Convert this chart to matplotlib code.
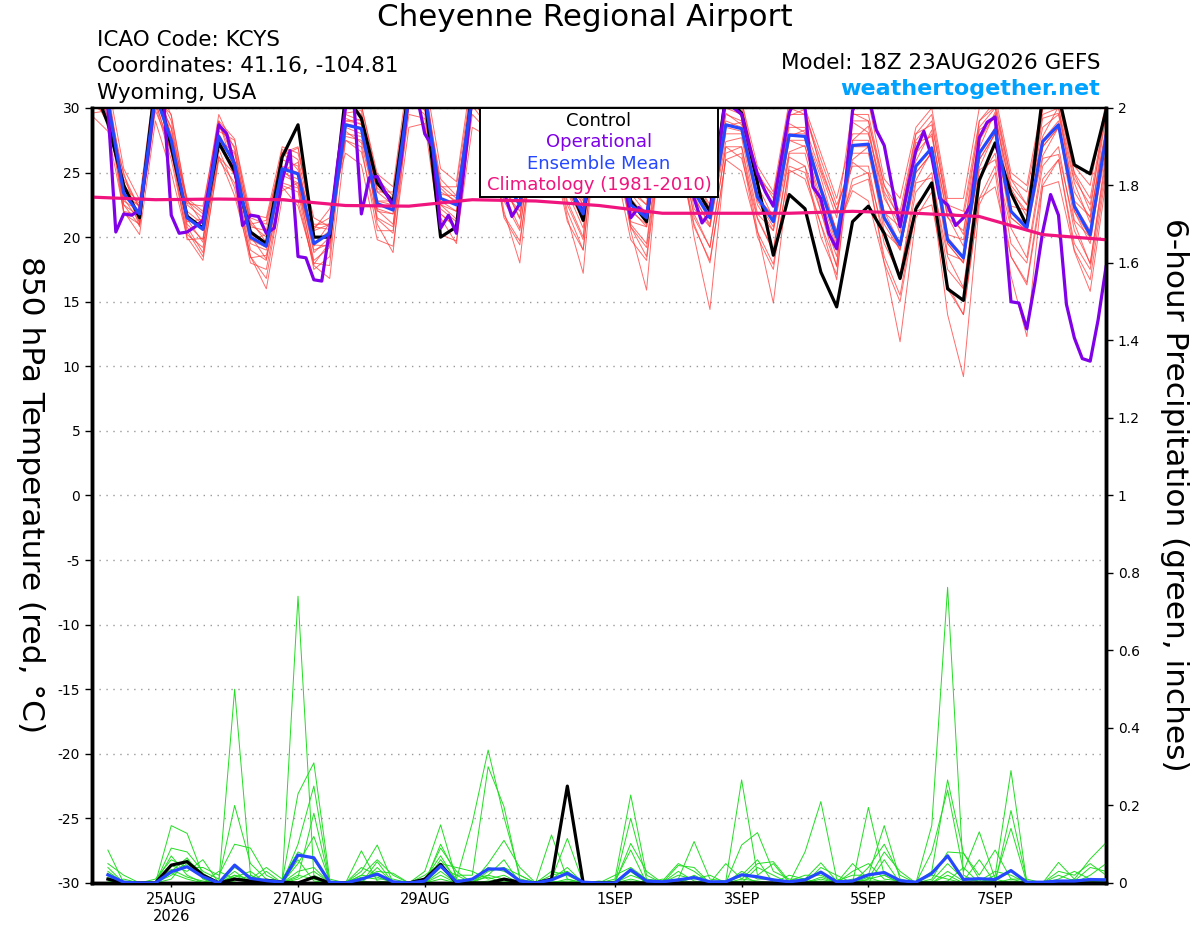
import numpy as np
import pandas as pd
import matplotlib
matplotlib.use("Agg")
import matplotlib.pyplot as plt
from matplotlib.patches import Rectangle

plt.rcParams['font.family'] = ['DejaVu Sans']

# GEFS run 18Z 23AUG2026, 6-hourly (operational 3-hourly)
times = pd.date_range("2026-08-23 18:00", periods=65, freq="6h").to_numpy()
times_op = pd.date_range("2026-08-23 18:00", periods=129, freq="3h").to_numpy()
times_clim = pd.date_range("2026-08-23 18:00", periods=17, freq="24h").to_numpy()
times_p = times[1:]  # 6-hour totals start at 00Z 24AUG

control_t = [32, 28.8, 24.0, 21.5, 32, 27.0, 21.6, 20.7, 27.3, 25.1, 20.4, 19.5, 26.2, 28.7, 20.0, 20.0,
             31, 29.2, 24.2, 22.7, 31.5, 31, 20.0, 20.8, 31.5, 30, 24, 24, 31, 29.5, 24.5, 21.3,
             31, 29, 22.8, 21.2, 31, 30, 24, 22.0, 31, 29.6, 24.2, 18.6, 23.3, 22.2, 17.3, 14.6,
             21.2, 22.4, 20.3, 16.8, 22.2, 24.2, 16.0, 15.1, 24.4, 27.3, 23.4, 20.9, 31, 31, 25.6, 24.9, 29.8]

mean_t = [31, 30.5, 23.4, 21.8, 31, 27.5, 21.5, 20.6, 27.8, 25.7, 20.0, 19.3, 25.3, 24.9, 19.5, 20.3,
          28.7, 28.4, 22.6, 22.1, 31, 31, 23.0, 22.5, 31, 30, 24.5, 22.5, 30.5, 29, 24, 21.8,
          30.5, 29, 22.5, 21.5, 30.5, 29.5, 23.5, 21.5, 28.7, 28.4, 23.1, 21.2, 27.9, 27.8, 23.7, 20.0,
          27.1, 27.2, 21.5, 19.4, 25.5, 26.9, 19.8, 18.4, 26.5, 28.3, 22.0, 20.7, 27.4, 28.7, 22.4, 20.2, 27.8]

oper_t = [31, 31, 30.0, 20.4, 21.8, 21.7, 22.1, 26.0, 31, 31, 21.7, 20.3, 20.4, 20.8, 21.3, 24.7,
          28.7, 28.0, 25.5, 20.9, 21.7, 21.6, 20.3, 20.7, 24.4, 26.7, 18.5, 18.4, 16.7, 16.6, 20.6, 25.7,
          30.0, 31, 21.8, 24.6, 24.7, 23.5, 22.4, 26.0, 31, 31, 28.0, 27.0, 20.7, 21.7, 20.3, 25.5,
          31, 31, 30, 26, 23.5, 21.6, 22.6, 27, 31, 31, 29.5, 27, 25, 23, 22.0, 25,
          31, 31, 29, 25, 21.5, 22.3, 21.7, 25, 31, 31, 29, 26, 23.0, 21.1, 21.9, 26,
          31, 30, 29.5, 27.0, 24.9, 23.5, 22.4, 26, 29.6, 31, 30, 23.9, 23.0, 20.3, 19.1, 23.4,
          29.8, 31, 31, 28.3, 27.1, 23.9, 20.8, 23.9, 26.7, 28.2, 26.2, 23.0, 22.5, 20.9, 21.5, 22.6,
          27.7, 28.9, 29.3, 22.1, 15.0, 14.9, 12.9, 16.4, 20.4, 23.3, 21.7, 14.8, 12.2, 10.6, 10.4, 13.6, 17.7]

clim_t = [23.1, 22.9, 22.95, 22.9, 22.45, 22.4, 22.9, 22.8, 22.45, 21.85, 21.85, 21.85, 22.0, 21.85, 21.6, 20.2, 19.8]

# ensemble members, one row per time step, one column per member
members_t = np.array([
    [31.5, 30.8, 32.0, 31.0, 30.5, 31.2, 32.5, 30.9, 31.4, 30.6],
    [29.5, 31.0, 30.2, 28.8, 31.5, 30.0, 29.2, 31.0, 30.5, 29.8],
    [24.5, 23.0, 22.5, 24.0, 23.8, 22.8, 25.0, 23.2, 22.0, 24.3],
    [22.3, 21.2, 20.9, 22.6, 21.5, 22.0, 21.0, 22.4, 21.7, 20.8],
    [31.0, 32.0, 30.5, 31.5, 32.5, 30.2, 31.0, 31.8, 30.8, 32.0],
    [28.5, 27.0, 26.5, 29.0, 27.8, 26.0, 28.0, 27.2, 29.5, 26.8],
    [22.5, 21.0, 20.5, 22.0, 21.8, 20.2, 23.0, 21.5, 22.8, 20.8],
    [21.5, 19.8, 18.5, 21.0, 20.5, 19.2, 22.0, 20.8, 21.8, 18.8],
    [27.0, 29.0, 26.0, 28.5, 28.0, 26.8, 29.5, 27.5, 28.2, 27.2],
    [26.5, 25.0, 24.2, 27.0, 25.5, 23.8, 26.8, 25.2, 27.5, 24.8],
    [21.0, 19.5, 18.5, 21.5, 20.2, 18.0, 20.8, 19.8, 21.8, 19.0],
    [20.0, 19.0, 16.0, 21.0, 19.5, 17.5, 20.5, 19.2, 21.5, 18.2],
    [26.0, 25.0, 23.0, 26.5, 25.5, 24.0, 26.8, 24.8, 27.0, 24.2],
    [25.5, 24.5, 22.8, 27.0, 25.0, 23.5, 26.0, 24.2, 26.5, 23.8],
    [20.5, 19.0, 17.8, 20.8, 19.5, 17.5, 21.0, 18.8, 21.5, 18.2],
    [21.0, 19.5, 16.8, 21.5, 20.5, 18.5, 21.0, 20.0, 20.8, 19.2],
    [28.5, 28.0, 27.5, 29.0, 29.5, 30.5, 29.2, 28.8, 27.8, 30.0],
    [28.0, 27.8, 27.0, 28.8, 29.0, 29.5, 28.7, 28.5, 27.5, 30.2],
    [24.0, 22.0, 20.5, 23.5, 22.8, 21.0, 21.5, 22.2, 23.8, 24.5],
    [23.0, 21.8, 20.5, 22.5, 22.5, 18.8, 20.8, 21.8, 22.8, 23.2],
    [31.5, 32.0, 30.2, 31.0, 32.5, 30.5, 32.0, 31.8, 30.8, 31.0],
    [31.0, 31.5, 30.0, 30.5, 32.0, 29.5, 31.5, 30.8, 29.8, 31.2],
    [24.0, 22.5, 21.8, 23.5, 23.0, 21.5, 22.2, 22.8, 23.8, 24.5],
    [23.0, 22.0, 20.8, 22.8, 22.5, 19.5, 21.2, 22.0, 22.6, 23.2],
    [31.5, 32.0, 30.2, 31.0, 32.5, 30.5, 32.0, 31.8, 30.8, 31.0],
    [31.0, 29.5, 28.5, 30.5, 30.0, 29.0, 29.0, 29.8, 30.8, 31.5],
    [26.0, 23.5, 21.5, 25.0, 24.5, 22.0, 22.8, 24.0, 25.5, 26.5],
    [24.0, 22.0, 19.4, 23.0, 22.5, 18.0, 20.5, 21.5, 23.2, 23.5],
    [31.5, 30.0, 29.0, 31.0, 30.5, 29.5, 29.5, 30.2, 31.0, 32.0],
    [30.0, 28.5, 27.5, 29.5, 29.0, 28.0, 28.0, 28.8, 29.8, 30.5],
    [25.5, 23.5, 22.0, 25.0, 24.0, 21.5, 22.5, 23.8, 25.0, 26.0],
    [23.0, 21.5, 19.0, 22.8, 22.0, 17.2, 19.8, 21.2, 22.5, 23.5],
    [31.0, 30.5, 30.2, 31.5, 30.0, 31.0, 32.0, 29.5, 29.0, 29.5],
    [29.5, 29.0, 28.8, 30.0, 28.5, 29.8, 30.5, 28.0, 27.5, 28.0],
    [23.5, 23.0, 22.2, 24.0, 22.0, 23.8, 24.5, 20.5, 20.8, 21.0],
    [22.5, 21.5, 20.8, 23.0, 21.0, 22.5, 23.5, 15.9, 18.5, 19.5],
    [31.0, 30.5, 30.2, 31.5, 30.0, 31.0, 32.0, 29.5, 28.5, 29.5],
    [30.0, 29.5, 29.2, 30.5, 29.0, 30.2, 31.0, 28.0, 27.0, 28.5],
    [24.5, 23.5, 23.2, 25.0, 23.0, 24.8, 25.5, 20.0, 21.0, 21.5],
    [22.5, 21.8, 20.8, 23.0, 21.0, 22.2, 23.5, 14.4, 18.0, 19.2],
    [29.5, 29.0, 28.5, 30.5, 28.0, 30.0, 31.0, 26.5, 26.0, 27.0],
    [29.0, 28.5, 28.2, 30.0, 28.0, 29.5, 30.5, 27.0, 26.5, 27.0],
    [24.5, 23.2, 22.8, 25.0, 22.5, 24.8, 25.5, 20.5, 20.0, 21.5],
    [22.5, 21.5, 20.8, 23.0, 20.5, 22.5, 23.5, 14.9, 17.5, 19.0],
    [28.5, 28.0, 27.5, 30.0, 27.5, 29.5, 30.5, 25.0, 25.5, 26.5],
    [28.5, 28.0, 27.5, 29.5, 27.0, 29.5, 30.0, 25.5, 25.0, 26.5],
    [25.0, 24.0, 23.5, 26.0, 23.0, 25.5, 26.5, 20.0, 21.0, 22.0],
    [21.5, 20.5, 19.8, 22.5, 19.5, 22.0, 23.0, 17.1, 17.8, 18.5],
    [30.0, 24.0, 24.5, 25.5, 27.5, 26.5, 28.0, 27.0, 29.0, 29.5],
    [30.5, 24.5, 25.0, 25.5, 27.5, 26.5, 28.0, 27.0, 29.0, 29.5],
    [24.5, 18.5, 18.0, 19.5, 22.0, 21.0, 23.0, 21.5, 23.5, 24.0],
    [23.0, 15.5, 11.9, 17.0, 19.5, 19.0, 21.0, 19.0, 21.5, 22.0],
    [28.5, 22.5, 21.5, 23.5, 25.5, 25.0, 26.5, 25.0, 27.5, 28.0],
    [30.0, 24.0, 23.5, 25.0, 27.0, 26.5, 28.0, 26.5, 29.0, 29.5],
    [23.0, 16.0, 14.0, 17.5, 20.0, 19.5, 21.5, 19.5, 22.0, 22.5],
    [23.0, 14.0, 9.2, 16.0, 18.5, 18.0, 20.5, 18.0, 21.5, 22.0],
    [30.0, 23.0, 22.5, 24.5, 26.5, 26.0, 27.5, 26.0, 28.5, 29.0],
    [31.0, 25.5, 25.0, 26.5, 28.5, 28.0, 29.5, 28.0, 30.0, 30.5],
    [25.0, 18.5, 17.0, 19.5, 22.0, 21.5, 23.5, 21.5, 24.0, 24.5],
    [24.0, 16.5, 12.3, 18.0, 21.0, 20.5, 22.0, 20.5, 22.5, 23.5],
    [30.5, 24.5, 24.0, 25.5, 27.5, 27.0, 28.5, 27.0, 29.5, 30.0],
    [31.0, 26.0, 26.0, 27.0, 29.0, 28.5, 29.5, 28.5, 30.0, 30.5],
    [25.5, 19.5, 19.0, 20.5, 22.5, 22.0, 23.5, 22.0, 24.5, 25.0],
    [24.0, 17.5, 16.7, 18.0, 20.5, 20.0, 21.5, 19.5, 22.5, 23.0],
    [30.5, 25.5, 25.0, 26.0, 28.0, 27.5, 28.5, 27.5, 29.5, 30.0],
])

# six more members, same layout
members_t_more = np.array([
    [31.8, 29.6, 31.3, 29.4, 32.5, 30.2],
    [30.6, 29.8, 31.2, 28.2, 32.0, 29.5],
    [24.8, 21.8, 23.2, 22.0, 25.3, 22.5],
    [22.2, 21.0, 22.5, 20.2, 22.9, 21.6],
    [31.8, 29.8, 31.3, 29.0, 32.5, 30.5],
    [27.6, 26.8, 28.4, 25.0, 29.4, 26.5],
    [22.9, 19.8, 21.2, 20.0, 22.6, 21.4],
    [21.0, 19.9, 21.4, 18.2, 22.4, 19.6],
    [28.9, 26.2, 27.5, 26.3, 29.0, 27.8],
    [25.9, 24.9, 26.6, 23.2, 27.6, 24.7],
    [21.3, 18.4, 19.8, 18.5, 21.0, 20.1],
    [19.6, 18.6, 20.2, 16.8, 21.3, 18.3],
    [26.6, 23.6, 25.1, 23.9, 26.3, 25.3],
    [25.2, 24.2, 25.8, 22.4, 26.9, 23.9],
    [20.8, 17.9, 19.3, 18.0, 20.6, 19.4],
    [20.6, 19.6, 21.1, 17.8, 22.2, 19.3],
    [27.5, 29.0, 28.2, 29.6, 26.5, 30.5],
    [26.6, 29.1, 27.3, 29.8, 25.6, 30.2],
    [21.4, 22.8, 22.1, 23.5, 19.8, 24.9],
    [20.3, 22.8, 21.0, 23.5, 19.3, 23.9],
    [29.5, 31.5, 30.2, 32.2, 28.5, 33.0],
    [29.2, 31.8, 30.5, 32.0, 28.8, 32.5],
    [21.8, 23.3, 22.5, 23.9, 20.2, 25.3],
    [20.7, 23.2, 21.4, 23.9, 19.7, 24.3],
    [29.5, 31.5, 30.2, 32.2, 28.5, 33.0],
    [28.2, 30.8, 29.5, 31.0, 27.8, 31.5],
    [23.3, 24.8, 24.0, 25.4, 21.7, 26.8],
    [20.7, 23.2, 21.4, 23.9, 19.7, 24.3],
    [29.0, 31.0, 29.7, 31.7, 28.0, 32.5],
    [27.2, 29.8, 28.5, 30.0, 26.8, 30.5],
    [22.8, 24.3, 23.5, 24.9, 21.2, 26.3],
    [20.0, 22.5, 20.7, 23.2, 19.0, 23.6],
    [32.0, 28.8, 31.4, 29.2, 30.4, 27.8],
    [31.1, 26.7, 29.3, 28.3, 29.5, 25.7],
    [24.0, 20.8, 23.4, 21.2, 22.4, 19.8],
    [23.6, 19.2, 21.8, 20.8, 22.0, 18.2],
    [32.0, 28.8, 31.4, 29.2, 30.4, 27.8],
    [31.6, 27.2, 29.8, 28.8, 30.0, 26.2],
    [25.0, 21.8, 24.4, 22.2, 23.4, 20.8],
    [23.6, 19.2, 21.8, 20.8, 22.0, 18.2],
    [30.2, 27.0, 29.6, 27.4, 28.6, 26.0],
    [30.5, 26.1, 28.7, 27.7, 28.9, 25.1],
    [24.6, 21.4, 24.0, 21.8, 23.0, 20.4],
    [23.3, 18.9, 21.5, 20.5, 21.7, 17.9],
    [29.4, 26.2, 28.8, 26.6, 27.8, 25.2],
    [29.9, 25.5, 28.1, 27.1, 28.3, 24.5],
    [25.2, 22.0, 24.6, 22.4, 23.6, 21.0],
    [22.1, 17.7, 20.3, 19.3, 20.5, 16.7],
    [26.0, 29.6, 25.8, 27.5, 23.6, 28.9],
    [27.0, 29.0, 24.9, 28.6, 22.8, 28.1],
    [20.4, 24.0, 20.2, 21.9, 18.0, 23.3],
    [19.2, 21.2, 17.1, 20.8, 15.0, 20.3],
    [24.4, 28.0, 24.2, 25.9, 22.0, 27.3],
    [26.7, 28.7, 24.6, 28.3, 22.5, 27.8],
    [18.7, 22.3, 18.5, 20.2, 16.3, 21.6],
    [18.2, 20.2, 16.1, 19.8, 14.0, 19.3],
    [25.4, 29.0, 25.2, 26.9, 23.0, 28.3],
    [28.1, 30.1, 26.0, 29.7, 23.9, 29.2],
    [20.9, 24.5, 20.7, 22.4, 18.5, 23.8],
    [20.5, 22.5, 18.4, 22.1, 16.3, 21.6],
    [26.3, 29.9, 26.1, 27.8, 23.9, 29.2],
    [28.5, 30.5, 26.4, 30.1, 24.3, 29.6],
    [21.3, 24.9, 21.1, 22.8, 18.9, 24.2],
    [20.0, 22.0, 17.9, 21.6, 15.8, 21.1],
    [26.7, 30.3, 26.5, 28.2, 24.3, 29.6],
])

control_p = [0.01, 0, 0, 0, 0.046, 0.055, 0.02, 0, 0.01, 0.005, 0.007, 0.002, 0, 0.015, 0,
             0, 0, 0, 0, 0, 0.01, 0.048, 0, 0, 0, 0.01, 0.002, 0, 0.01, 0.25, 0,
             0, 0, 0, 0, 0, 0, 0, 0, 0, 0, 0, 0, 0, 0, 0, 0,
             0, 0, 0, 0, 0, 0, 0, 0, 0, 0, 0, 0, 0, 0, 0, 0, 0]

mean_p = [0.021, 0.002, 0, 0, 0.029, 0.042, 0.016, 0, 0.046, 0.012, 0.006, 0.002, 0.072, 0.065, 0.002,
          0, 0.01, 0.023, 0.003, 0, 0.005, 0.044, 0.003, 0.01, 0.036, 0.036, 0.005, 0, 0.008, 0.025, 0.002,
          0, 0, 0.034, 0.005, 0.003, 0.008, 0.014, 0.003, 0.003, 0.021, 0.016, 0.008, 0.003, 0.008, 0.028, 0.003,
          0.005, 0.021, 0.027, 0.006, 0.002, 0.025, 0.07, 0.009, 0.011, 0.009, 0.032, 0.002, 0.002, 0.005, 0.005, 0.009, 0.008]

members_p = np.array([
    [0.085, 0.05, 0.03, 0.02, 0.01, 0.04, 0, 0.015, 0.025, 0.005],
    [0, 0.02, 0, 0, 0.005, 0, 0.01, 0, 0, 0],
    [0, 0, 0, 0, 0, 0, 0, 0, 0, 0],
    [0, 0, 0.01, 0, 0, 0, 0, 0, 0, 0],
    [0.148, 0.09, 0.06, 0.03, 0.045, 0.02, 0.07, 0.01, 0.035, 0.025],
    [0.128, 0.08, 0.04, 0.065, 0.03, 0.05, 0.02, 0.06, 0.015, 0.01],
    [0.02, 0.03, 0.04, 0.01, 0.06, 0.015, 0, 0.025, 0.005, 0],
    [0, 0.01, 0.02, 0, 0, 0, 0.03, 0, 0, 0],
    [0.50, 0.20, 0.1, 0.02, 0.015, 0.03, 0.01, 0.04, 0.005, 0.02],
    [0.02, 0.05, 0.09, 0.01, 0.03, 0, 0, 0.015, 0.02, 0],
    [0, 0.01, 0.02, 0.04, 0, 0.03, 0, 0.005, 0, 0],
    [0, 0.005, 0, 0.01, 0, 0, 0, 0, 0, 0],
    [0.74, 0.23, 0.1, 0.08, 0.05, 0.02, 0.03, 0.015, 0.06, 0.01],
    [0.02, 0.31, 0.25, 0.06, 0.12, 0.01, 0.04, 0.18, 0.005, 0.03],
    [0, 0.01, 0, 0, 0.005, 0, 0, 0, 0, 0],
    [0, 0, 0, 0, 0, 0, 0, 0, 0, 0],
    [0.083, 0.02, 0.03, 0.01, 0.04, 0, 0.015, 0, 0.005, 0.02],
    [0.005, 0.06, 0.098, 0.03, 0.02, 0.055, 0.01, 0.04, 0, 0.015],
    [0, 0.02, 0, 0.025, 0, 0, 0.01, 0, 0, 0],
    [0, 0, 0, 0, 0, 0, 0, 0, 0, 0],
    [0.03, 0, 0.005, 0.01, 0.02, 0, 0, 0, 0, 0],
    [0.15, 0.1, 0.09, 0.07, 0.05, 0.03, 0.06, 0.02, 0.04, 0.01],
    [0.01, 0.02, 0.03, 0.005, 0.04, 0, 0.01, 0, 0.02, 0],
    [0.155, 0.02, 0, 0.01, 0.03, 0, 0, 0.005, 0, 0],
    [0.343, 0.30, 0.05, 0.02, 0.01, 0.04, 0.03, 0.015, 0.005, 0.02],
    [0.17, 0.197, 0.11, 0.01, 0.02, 0.03, 0.04, 0, 0.005, 0.06],
    [0.02, 0.01, 0.04, 0, 0, 0.01, 0.02, 0, 0, 0],
    [0, 0, 0, 0, 0, 0, 0, 0, 0, 0],
    [0.124, 0.01, 0.02, 0.03, 0, 0, 0.005, 0.01, 0, 0],
    [0.01, 0.115, 0.03, 0.02, 0.005, 0.01, 0, 0.04, 0, 0],
    [0, 0, 0, 0, 0, 0, 0, 0, 0, 0],
    [0, 0, 0.005, 0, 0, 0, 0, 0, 0, 0],
    [0.01, 0, 0, 0.005, 0, 0.02, 0, 0, 0, 0],
    [0.227, 0.167, 0.102, 0.085, 0.02, 0.04, 0.01, 0.03, 0.005, 0.03],
    [0.02, 0.01, 0.03, 0, 0.005, 0.01, 0, 0, 0, 0],
    [0, 0.005, 0, 0, 0, 0, 0, 0.01, 0, 0],
    [0.01, 0.05, 0.02, 0.045, 0, 0.01, 0.03, 0, 0, 0],
    [0.107, 0.03, 0.01, 0.04, 0.02, 0, 0.005, 0.015, 0, 0],
    [0.01, 0, 0.02, 0, 0, 0.005, 0, 0, 0, 0],
    [0.005, 0, 0, 0.05, 0, 0, 0, 0, 0, 0],
    [0.266, 0.098, 0.02, 0.01, 0.03, 0.005, 0.01, 0, 0, 0.02],
    [0.02, 0.13, 0.06, 0.05, 0.01, 0, 0.005, 0.04, 0, 0],
    [0.05, 0.03, 0, 0.055, 0.01, 0, 0, 0.02, 0, 0],
    [0, 0.01, 0, 0.005, 0, 0, 0, 0, 0.02, 0],
    [0.08, 0.01, 0, 0.02, 0, 0, 0.005, 0, 0.01, 0],
    [0.21, 0.052, 0.04, 0.02, 0.01, 0.005, 0, 0.015, 0, 0],
    [0.01, 0.005, 0.02, 0, 0, 0, 0, 0, 0, 0],
    [0, 0.02, 0, 0.05, 0.03, 0, 0.01, 0, 0, 0],
    [0.195, 0.02, 0.04, 0.01, 0.05, 0, 0.005, 0.01, 0, 0.015],
    [0.02, 0.148, 0.10, 0.08, 0.01, 0.06, 0.005, 0.02, 0, 0],
    [0, 0.01, 0.02, 0.03, 0.005, 0, 0, 0, 0, 0],
    [0, 0, 0, 0, 0, 0, 0, 0, 0, 0],
    [0.148, 0.03, 0.08, 0.01, 0.005, 0, 0.02, 0, 0, 0],
    [0.763, 0.266, 0.24, 0.08, 0.05, 0.03, 0.01, 0.02, 0.005, 0],
    [0.02, 0.077, 0.03, 0.077, 0.01, 0.005, 0, 0, 0.04, 0],
    [0, 0.01, 0.132, 0.02, 0.005, 0.06, 0, 0, 0, 0.01],
    [0.02, 0, 0.01, 0.085, 0.03, 0, 0.005, 0, 0.01, 0],
    [0.29, 0.187, 0.141, 0.01, 0.02, 0.005, 0.03, 0, 0, 0.01],
    [0, 0.005, 0, 0.01, 0, 0, 0, 0, 0, 0],
    [0, 0, 0, 0, 0, 0, 0, 0, 0, 0],
    [0.053, 0.02, 0.03, 0.01, 0, 0, 0.005, 0, 0, 0],
    [0.01, 0.005, 0.02, 0.03, 0, 0.01, 0, 0, 0, 0],
    [0.062, 0.04, 0.05, 0.01, 0.02, 0, 0.005, 0, 0, 0],
    [0.104, 0.03, 0.02, 0.01, 0.05, 0.005, 0, 0, 0.01, 0],
])

tick_dates = pd.to_datetime(["2026-08-25", "2026-08-27", "2026-08-29", "2026-09-01",
                             "2026-09-03", "2026-09-05", "2026-09-07"]).to_numpy()
tick_labels = ["25AUG\n2026", "27AUG", "29AUG", "1SEP", "3SEP", "5SEP", "7SEP"]
temp_ticks = list(range(-30, 31, 5))
precip_ticks = [0, 0.2, 0.4, 0.6, 0.8, 1, 1.2, 1.4, 1.6, 1.8, 2]
precip_labels = ["0", "0.2", "0.4", "0.6", "0.8", "1", "1.2", "1.4", "1.6", "1.8", "2"]

all_members_t = np.hstack([members_t, members_t_more])

fig = plt.figure(figsize=(12, 9.27), dpi=100)
ax = fig.add_axes([0.0767, 0.0475, 0.845, 0.836])
ax2 = ax.twinx()

# temperature
for k in range(all_members_t.shape[1]):
    ax.plot(times, all_members_t[:, k], color='#ff3b3b', lw=0.7, alpha=0.75, zorder=2)
ax.plot(times, control_t, color='black', lw=2.3, zorder=4)
ax.plot(times_op, oper_t, color='#8000e8', lw=2.3, zorder=5)
ax.plot(times, mean_t, color='#2548ff', lw=2.3, zorder=6)
ax.plot(times_clim, clim_t, color='#f0147e', lw=2.3, zorder=7)

ax.set_ylim(-30, 30)
ax.set_yticks(temp_ticks)
ax.set_yticklabels([str(t) for t in temp_ticks])
ax.set_xlim(times[0], times[-1])
ax.set_xticks(tick_dates)
ax.set_xticklabels(tick_labels)
ax.yaxis.grid(True, linestyle=(0, (1, 4)), color='#999999', lw=1)
ax.tick_params(axis='y', labelsize=10, length=5, width=1, direction='out')
ax.tick_params(axis='x', labelsize=10.5, length=3, width=1, direction='out')

# precipitation
for k in range(members_p.shape[1]):
    ax2.plot(times_p, members_p[:, k], color='#22dd22', lw=0.7, zorder=2)
ax2.plot(times_p, control_p, color='black', lw=2.3, zorder=4)
ax2.plot(times_p, mean_p, color='#2548ff', lw=2.3, zorder=5)
ax2.set_ylim(0, 2)
ax2.set_yticks(precip_ticks)
ax2.set_yticklabels(precip_labels)
ax2.tick_params(axis='y', labelsize=10, length=5, width=1, direction='out')

for a in (ax, ax2):
    a.spines['left'].set_linewidth(2.5)
    a.spines['right'].set_linewidth(2.5)
    a.spines['bottom'].set_linewidth(2.5)
    a.spines['top'].set_linewidth(1.6)

# legend box
ax2.add_patch(Rectangle((0.3826, 0.885), 0.2348, 0.115, transform=ax2.transAxes,
                        facecolor='white', edgecolor='black', lw=1.4, zorder=10))
legend_items = [("Control", 'black'), ("Operational", '#8000e8'),
                ("Ensemble Mean", '#2548ff'), ("Climatology (1981-2010)", '#f0147e')]
for n, (label, col) in enumerate(legend_items):
    ax2.text(0.5, 0.983 - n * 0.0275, label, color=col, fontsize=13,
             ha='center', va='center', transform=ax2.transAxes, zorder=11)

# axis titles
fig.text(0.025, 0.466, "850 hPa Temperature (red, °C)", fontsize=22.5, rotation=270,
         ha='center', va='center')
fig.text(0.979, 0.466, "6-hour Precipitation (green, inches)", fontsize=22.5, rotation=270,
         ha='center', va='center')

# header
fig.text(0.4875, 0.9806, "Cheyenne Regional Airport", fontsize=22.3, ha='center', va='center')
fig.text(0.081, 0.957, "ICAO Code: KCYS", fontsize=15.5, ha='left', va='center')
fig.text(0.081, 0.929, "Coordinates: 41.16, -104.81", fontsize=15.5, ha='left', va='center')
fig.text(0.081, 0.900, "Wyoming, USA", fontsize=15.5, ha='left', va='center')
fig.text(0.9167, 0.932, "Model: 18Z 23AUG2026 GEFS", fontsize=15.5, ha='right', va='center')
fig.text(0.9167, 0.904, "weathertogether.net", fontsize=16, ha='right', va='center',
         color='#00a2ff', fontweight='bold')

fig.savefig("out.png", dpi=100)
